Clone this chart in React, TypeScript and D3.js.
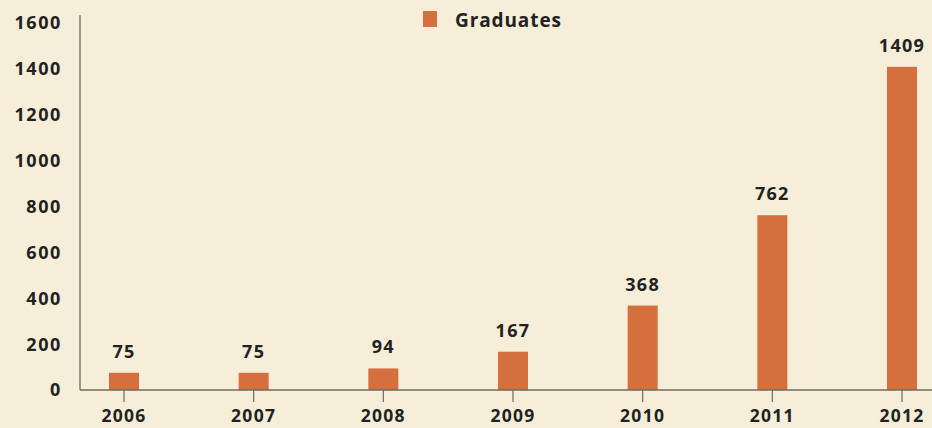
import React from "react";
import * as d3 from "d3";

// Graduates per year
const years: string[] = ["2006", "2007", "2008", "2009", "2010", "2011", "2012"];
const graduates: number[] = [75, 75, 94, 167, 368, 762, 1409];
const yTicks: number[] = [0, 200, 400, 600, 800, 1000, 1200, 1400, 1600];
const seriesName = "Graduates";

const W = 932;
const H = 428;
const BG = "#f6eed8";
const BAR = "#d66f3e";
const AXIS = "#6f6b60";
const TEXT = "#222222";
const FONT = "'Open Sans', 'Noto Sans', sans-serif";

export default function App() {
  const x = d3.scalePoint<string>().domain(years).range([124, 902]);
  const y = d3.scaleLinear().domain([0, 1600]).range([390, 23]);
  const barW = 30;
  const axisX = 80;
  const baseY = y(0);

  const numStyle = {
    fontSize: 18,
    fontWeight: 700,
    letterSpacing: 1.3,
    fill: TEXT,
  } as const;

  return (
    <svg
      width={W}
      height={H}
      style={{ position: "absolute", left: 0, top: 0, display: "block" }}
      fontFamily={FONT}
    >
      <rect x={0} y={0} width={W} height={H} fill={BG} />

      {/* bars */}
      {years.map((yr, i) => (
        <rect
          key={yr}
          x={(x(yr) as number) - barW / 2}
          y={y(graduates[i])}
          width={barW}
          height={baseY - y(graduates[i])}
          fill={BAR}
        />
      ))}

      {/* value labels */}
      {years.map((yr, i) => (
        <text
          key={"v" + yr}
          x={x(yr) as number}
          y={y(graduates[i]) - 15}
          textAnchor="middle"
          {...numStyle}
        >
          {graduates[i]}
        </text>
      ))}

      {/* axes */}
      <line x1={axisX} y1={15} x2={axisX} y2={baseY} stroke={AXIS} strokeWidth={1.3} />
      <line x1={axisX} y1={baseY} x2={W} y2={baseY} stroke={AXIS} strokeWidth={1.3} />

      {years.map((yr) => (
        <line
          key={"t" + yr}
          x1={x(yr) as number}
          x2={x(yr) as number}
          y1={baseY}
          y2={baseY + 12}
          stroke={AXIS}
          strokeWidth={1.2}
        />
      ))}

      {years.map((yr) => (
        <text
          key={"l" + yr}
          x={x(yr) as number}
          y={422}
          textAnchor="middle"
          {...numStyle}
          fontSize={17.5}
        >
          {yr}
        </text>
      ))}

      {yTicks.map((t) => (
        <text
          key={"y" + t}
          x={62}
          y={y(t)}
          dy="0.36em"
          textAnchor="end"
          {...numStyle}
          letterSpacing={1.6}
        >
          {t}
        </text>
      ))}

      {/* legend */}
      <rect x={423} y={11} width={14} height={16} fill={BAR} />
      <text x={455} y={27} fontSize={19} fontWeight={700} fill={TEXT} letterSpacing={0.9}>
        {seriesName}
      </text>
    </svg>
  );
}
